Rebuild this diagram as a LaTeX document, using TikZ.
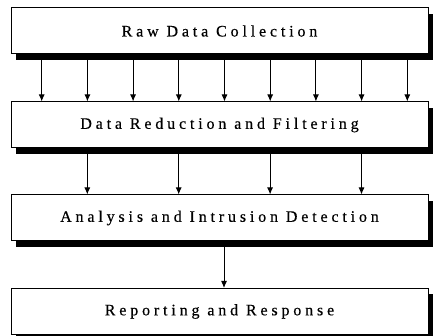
\documentclass[tikz,border=0pt]{standalone}
\usepackage{fontspec}
\setmainfont{Liberation Serif}[LetterSpace=24,FakeBold=0.4]
\usetikzlibrary{shadows,arrows.meta}

\tikzstyle{stage} = [draw=black, line width=1pt, fill=white, minimum width=417pt, minimum height=46pt, inner sep=0pt, font=\fontsize{16}{18}\selectfont, drop shadow={shadow xshift=5pt, shadow yshift=-6pt, fill=black, opacity=1}]
\tikzstyle{flow} = [-{Latex[length=7pt,width=6pt]}, line width=1pt]

\begin{document}
\begin{tikzpicture}[x=1pt,y=1pt]
      \useasboundingbox (0,0) rectangle (434,-336);
      \node[stage] (raw) at (219.5,-31) {Raw Data Collection};
      \node[stage] (reduce) at (219.5,-125) {Data Reduction and Filtering};
      \node[stage] (analysis) at (219.5,-218) {Analysis and Intrusion Detection};
      \node[stage] (report) at (219.5,-311.5) {Reporting and Response};

      \foreach \i in {0,...,8}
        \draw[flow] ([xshift={-177.8pt+\i*45.7pt}, yshift=-6pt]raw.south) -- ([xshift={-177.8pt+\i*45.7pt}]reduce.north);
      \foreach \i in {0,...,3}
        \draw[flow] ([xshift={-132.2pt+\i*91.4pt}, yshift=-6pt]reduce.south) -- ([xshift={-132.2pt+\i*91.4pt}]analysis.north);
      \draw[flow] ([xshift=4.5pt, yshift=-6pt]analysis.south) -- ([xshift=4.5pt]report.north);
    \end{tikzpicture}
\end{document}
